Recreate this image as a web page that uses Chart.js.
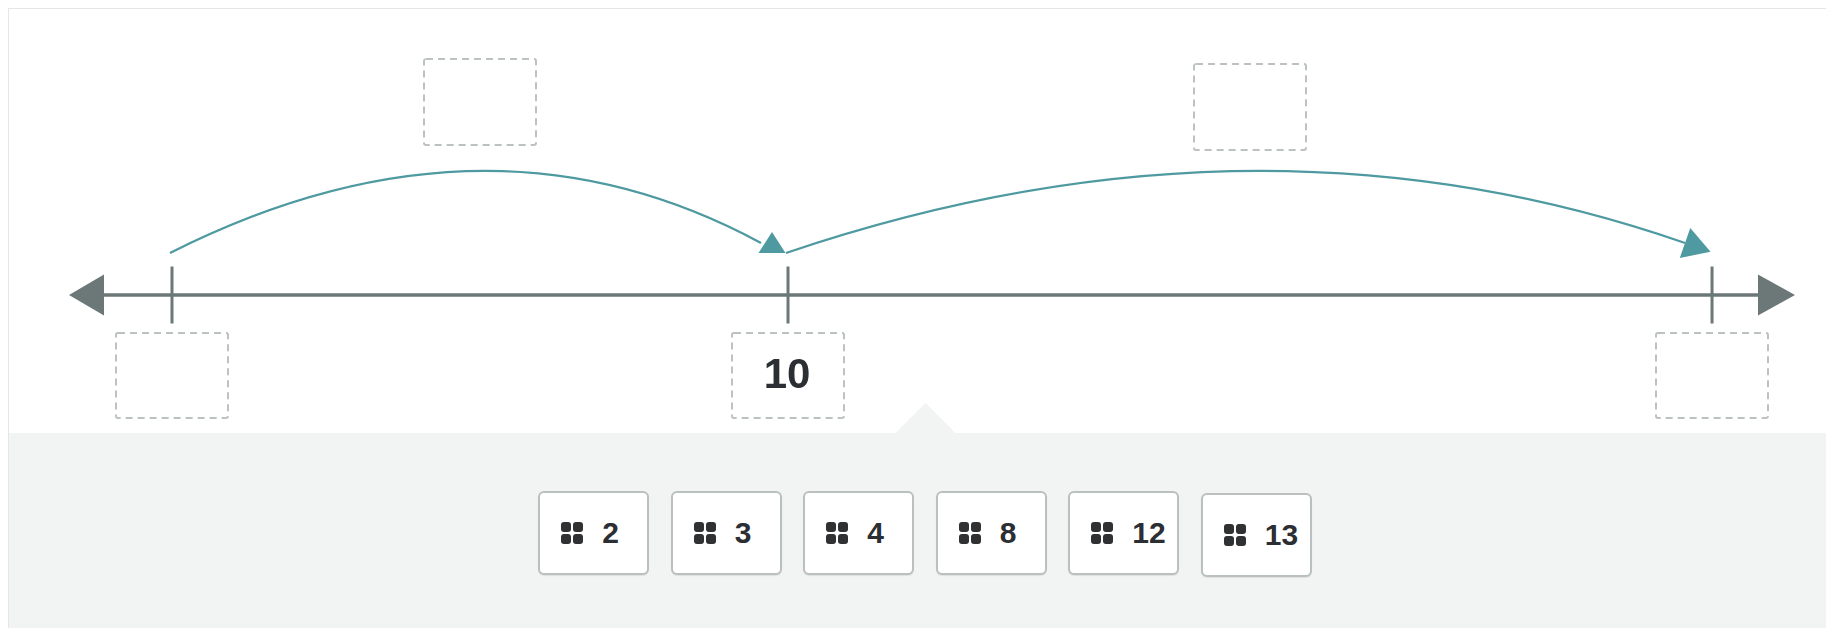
<!DOCTYPE html>
<html>
<head>
<meta charset="utf-8">
<title>Number line</title>
<script src="https://cdn.jsdelivr.net/npm/chart.js@4.4.1/dist/chart.umd.min.js"></script>
<style>
  html, body { margin: 0; padding: 0; background: #fff; overflow: hidden; }
  body { width: 1826px; height: 628px; position: relative; font-family: "Liberation Sans", Arial, sans-serif; }
  #wrap { position: absolute; left: 8px; top: 8px; width: 1834px; height: 700px; border: 1px solid #e3e7e6; box-sizing: border-box; }
  #chartBox { position: absolute; left: 0; top: 0; width: 1832px; height: 424px; }
  #panel { position: absolute; left: 0; top: 424px; width: 1832px; height: 280px; background: #f2f4f3; }
  #panel::before { content: ""; position: absolute; left: 50%; top: -21px; width: 43px; height: 43px; margin-left: -21.5px; background: #f2f4f3; transform: rotate(45deg); }
  #choices { position: absolute; top: 58px; left: 0; width: 100%; display: flex; justify-content: center; gap: 21.5px; }
  .chip { position: relative; box-sizing: border-box; width: 111px; height: 84px; background: #fff; border: 2px solid #b9c0bf; border-radius: 6px; box-shadow: 0 1px 1px rgba(0,0,0,0.08); display: flex; align-items: center; padding-left: 21px; }
  .chip:last-child { margin-top: 2px; }
  .grip { width: 22px; height: 22px; display: grid; grid-template-columns: 10px 10px; grid-template-rows: 10px 10px; gap: 2px; flex: none; }
  .grip i { display: block; background: #2f3133; border-radius: 3px; }
  .num { margin-left: 19px; font-weight: bold; font-size: 30px; line-height: 1; color: #2b2e33; }
</style>
</head>
<body>
<div id="wrap">
  <div id="chartBox"><canvas id="line" width="1832" height="424"></canvas></div>
  <div id="panel"><div id="choices"></div></div>
</div>
<script>
// positions of the marked points on the number line
const pointValues = [2, 10, 22];
const pointLabels = ['', '10', ''];
// jumps drawn as arcs above the line
const jumpFrom = [2, 10];
const jumpTo = [10, 22];
const jumpLabels = ['', ''];
// answer tiles below
const choices = ['2', '3', '4', '8', '12', '13'];

const LINE_GREY = '#6b7877';
const TEAL = '#4e9aa0';
const BOX_GREY = '#bcc1c1';
const TEXT = '#2b2e33';

function tri(ctx, a, b, c) {
  ctx.beginPath();
  ctx.moveTo(a[0], a[1]);
  ctx.lineTo(b[0], b[1]);
  ctx.lineTo(c[0], c[1]);
  ctx.closePath();
  ctx.fill();
}

function dashBox(ctx, cx, top, w, h) {
  ctx.save();
  ctx.strokeStyle = BOX_GREY;
  ctx.lineWidth = 2;
  ctx.setLineDash([7, 5]);
  ctx.beginPath();
  ctx.roundRect(Math.round(cx - w / 2), Math.round(top), w, h, 2);
  ctx.stroke();
  ctx.restore();
}

// arrowhead: base centre (bx,by), pointing at angle ang
function arrowHead(ctx, bx, by, ang, len, half) {
  const c = Math.cos(ang), s = Math.sin(ang);
  tri(ctx,
    [bx + c * len, by + s * len],
    [bx - s * half, by + c * half],
    [bx + s * half, by - c * half]);
}

const numberLine = {
  id: 'numberLine',
  beforeDatasetsDraw(chart) {
    const { ctx, chartArea } = chart;
    const ay = chart.scales.y.getPixelForValue(0);
    ctx.save();
    ctx.strokeStyle = LINE_GREY;
    ctx.lineWidth = 3.5;
    ctx.beginPath();
    ctx.moveTo(chartArea.left, ay);
    ctx.lineTo(chartArea.right, ay);
    ctx.stroke();
    ctx.fillStyle = LINE_GREY;
    tri(ctx, [chartArea.left - 35, ay], [chartArea.left, ay - 20.5], [chartArea.left, ay + 20.5]);
    tri(ctx, [chartArea.right + 37, ay], [chartArea.right, ay - 20.5], [chartArea.right, ay + 20.5]);
    ctx.restore();
  },
  afterDatasetsDraw(chart) {
    const { ctx } = chart;
    const x = chart.scales.x;
    const ay = chart.scales.y.getPixelForValue(0);
    const topBoxY = [ay - 236, ay - 231];

    // jumps
    jumpFrom.forEach((v, i) => {
      const x0 = x.getPixelForValue(v) - 2, y0 = ay - 42;
      const tx = x.getPixelForValue(jumpTo[i]);
      const x1 = tx - 27, y1 = ay - 52;
      const cx = (x0 + x1) / 2 + 20, cy = ay - 201;
      ctx.save();
      ctx.strokeStyle = TEAL;
      ctx.lineWidth = 2.3;
      ctx.beginPath();
      ctx.moveTo(x0, y0);
      ctx.quadraticCurveTo(cx, cy, x1, y1);
      ctx.stroke();
      ctx.fillStyle = TEAL;
      if (i === 0) {
        arrowHead(ctx, tx - 16, ay - 42, -Math.PI / 2, 21, 13.5);
      } else {
        arrowHead(ctx, x1, y1, Math.atan2(y1 - cy, x1 - cx), 27, 16);
      }
      ctx.restore();

      const mid = (x.getPixelForValue(v) + tx) / 2;
      dashBox(ctx, mid, topBoxY[i], 112, 86);
      if (jumpLabels[i]) {
        ctx.save();
        ctx.font = 'bold 42px "Liberation Sans", Arial';
        ctx.fillStyle = TEXT;
        ctx.textAlign = 'center';
        ctx.fillText(jumpLabels[i], mid, topBoxY[i] + 59);
        ctx.restore();
      }
    });

    // boxes and labels under the points
    pointValues.forEach((v, i) => {
      const px = x.getPixelForValue(v);
      dashBox(ctx, px, ay + 38, 112, 85);
      if (pointLabels[i]) {
        ctx.save();
        ctx.font = 'bold 42px "Liberation Sans", Arial';
        ctx.fillStyle = TEXT;
        ctx.textAlign = 'center';
        ctx.fillText(pointLabels[i], px - 1, ay + 93);
        ctx.restore();
      }
    });
  }
};

new Chart(document.getElementById('line'), {
  type: 'scatter',
  data: {
    datasets: [{
      data: pointValues.map(v => ({ x: v, y: 0 })),
      pointStyle: 'line',
      rotation: 90,
      radius: 28.5,
      borderWidth: 3,
      borderColor: LINE_GREY,
      backgroundColor: LINE_GREY
    }]
  },
  options: {
    responsive: false,
    animation: false,
    events: [],
    layout: { autoPadding: false, padding: { left: 95, right: 83, top: 148, bottom: 0 } },
    plugins: { legend: { display: false }, tooltip: { enabled: false } },
    scales: {
      // range chosen so the line runs between the two end arrows
      x: { type: 'linear', display: false, min: 1.117, max: 22.597 },
      y: { display: false, min: -1, max: 1 }
    }
  },
  plugins: [numberLine]
});

const row = document.getElementById('choices');
choices.forEach(c => {
  const chip = document.createElement('div');
  chip.className = 'chip';
  chip.innerHTML = '<span class="grip"><i></i><i></i><i></i><i></i></span><span class="num">' + c + '</span>';
  row.appendChild(chip);
});
</script>
</body>
</html>
